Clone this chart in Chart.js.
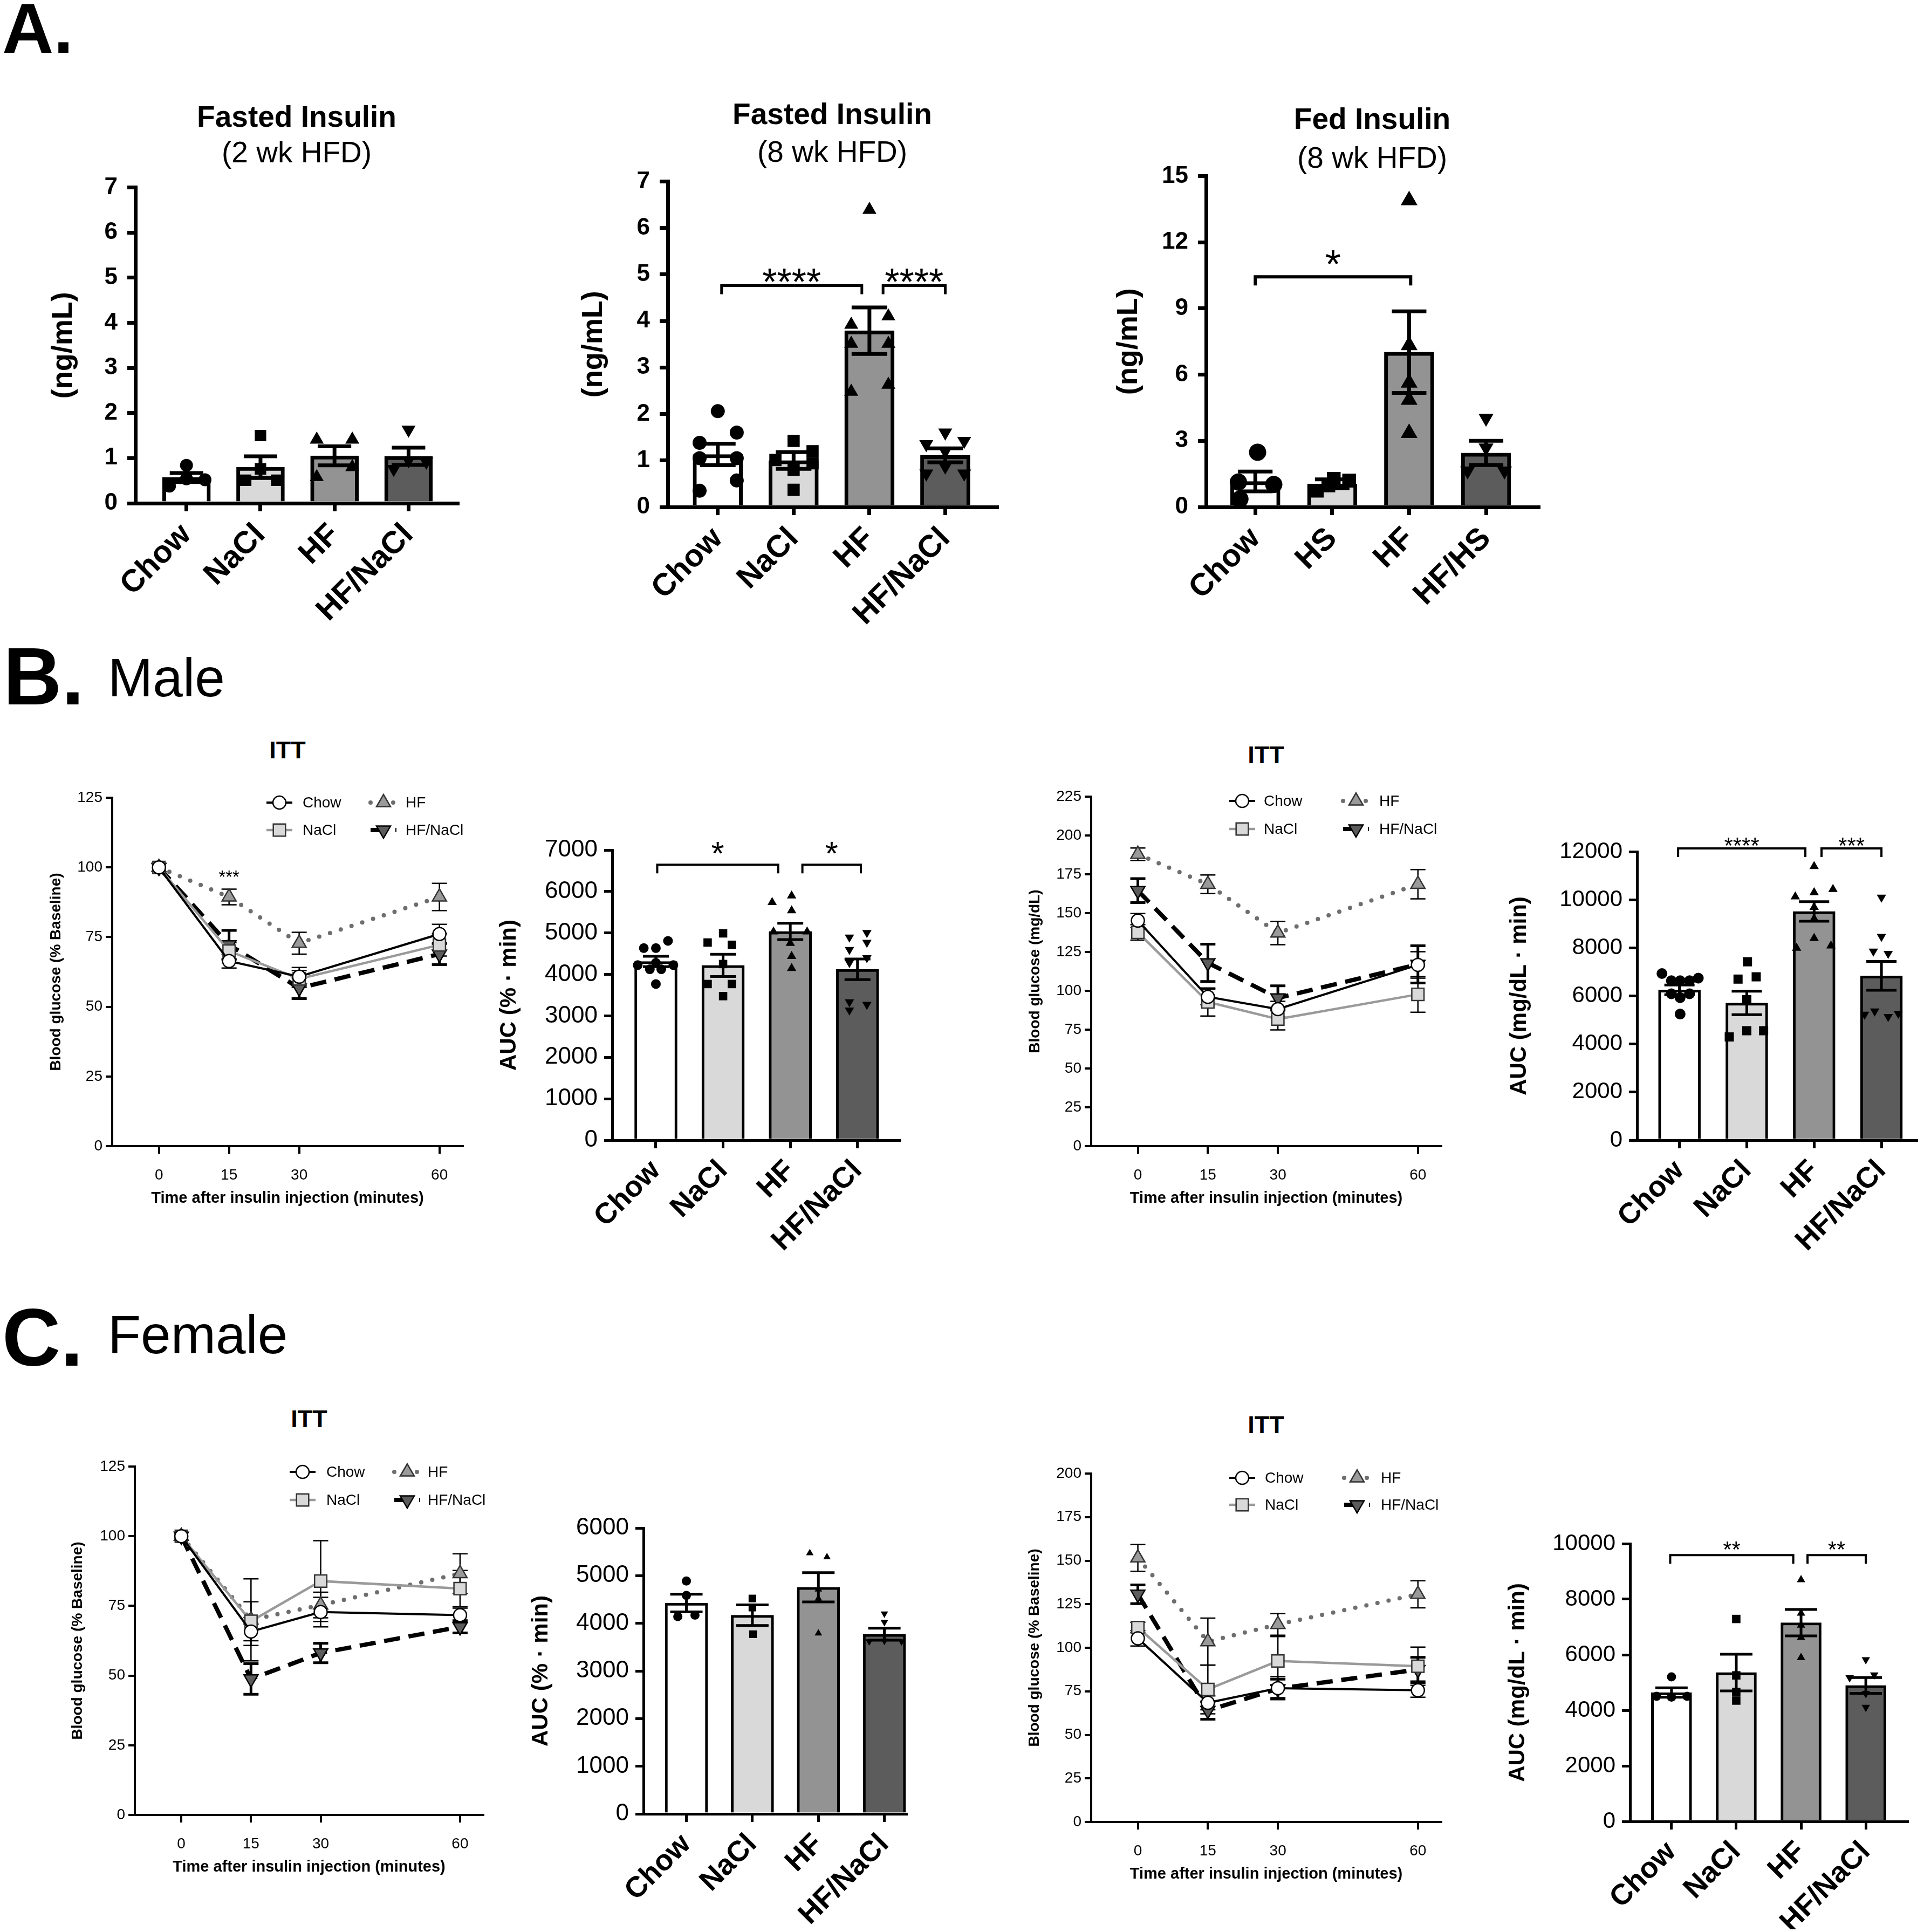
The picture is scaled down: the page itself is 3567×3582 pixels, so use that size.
<!DOCTYPE html>
<html>
<head>
<meta charset="utf-8">
<title>Insulin and ITT</title>
<script src="https://cdn.jsdelivr.net/npm/chart.js@4.4.1/dist/chart.umd.min.js"></script>
<style>
  html, body { margin: 0; padding: 0; background: #fff; }
  body { position: relative; width: 3567px; height: 3582px; overflow: hidden;
         font-family: "Liberation Sans", Arial, Helvetica, sans-serif; color: #000; }
  .lbl { position: absolute; line-height: 1; white-space: nowrap; }
  .ctr { transform: translate(-50%, -50%); }
  canvas { position: absolute; }
</style>
</head>
<body>
<div class="lbl" style="left:4px;top:-13px;font-size:132px;font-weight:bold">A.</div>
<div class="lbl" style="left:6px;top:1179px;font-size:150px;font-weight:bold">B.</div>
<div class="lbl" style="left:200px;top:1206px;font-size:100px">Male</div>
<div class="lbl" style="left:4px;top:2405px;font-size:150px;font-weight:bold">C.</div>
<div class="lbl" style="left:200px;top:2424px;font-size:100px">Female</div>

<div class="lbl ctr" style="left:550px;top:216px;font-size:55px;font-weight:bold">Fasted Insulin</div>
<div class="lbl ctr" style="left:550px;top:282px;font-size:55px">(2 wk HFD)</div>
<div class="lbl ctr" style="left:1543px;top:211px;font-size:55px;font-weight:bold">Fasted Insulin</div>
<div class="lbl ctr" style="left:1543px;top:281px;font-size:55px">(8 wk HFD)</div>
<div class="lbl ctr" style="left:2544px;top:220px;font-size:55px;font-weight:bold">Fed Insulin</div>
<div class="lbl ctr" style="left:2544px;top:292px;font-size:55px">(8 wk HFD)</div>

<div class="lbl ctr" style="left:533px;top:1390px;font-size:45px;font-weight:bold">ITT</div>
<div class="lbl ctr" style="left:2347px;top:1399px;font-size:45px;font-weight:bold">ITT</div>
<div class="lbl ctr" style="left:573px;top:2630px;font-size:45px;font-weight:bold">ITT</div>
<div class="lbl ctr" style="left:2347px;top:2641px;font-size:45px;font-weight:bold">ITT</div>

<script>
// ---------- data ----------
const CATS = ['Chow', 'NaCl', 'HF', 'HF/NaCl'];
const CATS_HS = ['Chow', 'HS', 'HF', 'HF/HS'];
const ittTime = [0, 15, 30, 60];

// A. fasted insulin, 2 wk HFD (ng/mL)
const a1Mean = [0.57, 0.80, 1.05, 1.04];
const a1Sem = [0.10, 0.24, 0.21, 0.19];
const a1Pts = [[0.38, 0.84, 0.54, 0.52], [1.50, 0.76, 0.51, 0.51], [1.41, 1.41, 0.58, 0.80], [1.63, 0.76, 0.95, 0.92]];
const a1Spread = [[-0.23, 0, 0, 0.25], [0, 0, -0.2, 0.22], [-0.24, 0.24, -0.24, 0.24], [0, -0.2, 0, 0.24]];

// A. fasted insulin, 8 wk HFD
const a2Mean = [1.13, 1.00, 3.79, 1.11];
const a2Sem = [0.23, 0.18, 0.50, 0.15];
const a2Pts = [[2.06, 1.60, 1.38, 1.05, 1.05, 0.57, 0.35], [1.42, 1.20, 1.01, 0.94, 0.80, 0.37],
               [6.39, 4.10, 3.92, 3.51, 3.51, 2.48, 2.63], [1.60, 1.35, 1.42, 1.20, 0.72, 0.72, 0.87]];
const a2Spread = [[0, 0.25, -0.24, -0.24, 0.25, 0.25, -0.24], [0, 0.25, -0.24, 0.25, 0, 0],
                  [0, 0.25, -0.24, -0.24, 0.25, -0.24, 0.25], [0, -0.25, 0.25, 0, -0.25, 0.25, 0]];

// A. fed insulin, 8 wk HFD
const a3Mean = [1.16, 1.05, 7.02, 2.45];
const a3Sem = [0.45, 0.20, 1.85, 0.55];
const a3Pts = [[2.48, 1.13, 1.02, 0.36], [0.74, 1.28, 1.20, 0.98], [13.9, 7.33, 5.63, 4.85, 3.35], [4.03, 2.68, 1.64, 1.64]];
const a3Spread = [[0.03, -0.22, 0.24, -0.2], [-0.2, 0.02, 0.22, -0.05], [0, 0, 0, 0, 0], [0, 0, -0.24, 0.24]];

// B. male ITT, % baseline
const b1Mean = [[100, 66.4, 60.8, 76.1], [100, 70.0, 60.0, 72.2], [100, 89.4, 72.8, 89.4], [100, 72.2, 56.7, 68.9]];
const b1Sem = [[0, 2.5, 3.3, 3.5], [0, 3.0, 3.0, 4.0], [0, 2.8, 3.9, 4.9], [0, 5.2, 3.8, 3.8]];

// B. male AUC (% * min)
const b2Mean = [4312, 4217, 5037, 4123];
const b2Sem = [126, 268, 198, 248];
const b2Pts = [[4635, 4635, 4808, 4225, 4123, 4280, 4123, 4225, 3768], [4990, 4769, 4714, 4250, 3768, 3768, 3476],
               [5739, 5896, 5541, 5029, 5029, 4753, 4438, 4146], [4895, 5005, 4769, 4596, 4398, 4280, 3334, 3271, 3137]];
const b2Spread = [[-0.18, 0, 0.18, -0.27, -0.09, 0, 0.08, 0.26, 0], [0, -0.23, 0.13, 0, -0.23, 0.13, 0],
                  [-0.27, 0.02, 0.02, 0.25, -0.25, 0, 0.02, 0.02], [-0.12, 0.14, 0.14, -0.12, 0.14, -0.12, -0.12, 0.14, -0.12]];

// B. male ITT, mg/dL
const b3Mean = [[145.2, 96.1, 88.2, 116.7], [137.6, 92.8, 81.8, 97.7], [187.9, 168.6, 137.2, 168.6], [164.5, 118.0, 95.4, 117.0]];
const b3Sem = [[4.5, 5.0, 5.0, 8.5], [5.0, 9.0, 7.0, 11.5], [4.0, 6.0, 7.5, 9.4], [7.7, 12.0, 7.8, 12.0]];

// B. male AUC (mg/dL * min)
const b4Mean = [6252, 5708, 9514, 6836];
const b4Sem = [204, 490, 408, 598];
const b4Pts = [[6931, 6632, 6632, 6632, 6741, 6089, 5926, 6089, 5246], [7420, 6700, 6795, 5844, 4295, 4553, 4553],
               [11389, 10125, 10302, 10437, 9690, 9215, 8399, 7991, 8086], [10098, 8467, 7855, 7760, 5233, 5368, 5137, 5273]];
const b4Spread = [[-0.26, -0.12, 0.01, 0.15, 0.28, -0.12, 0.01, 0.15, 0.01], [0.01, -0.13, 0.14, 0, -0.26, 0, 0.25],
                  [0, -0.28, 0, 0.28, 0, 0, 0, -0.26, 0.25], [0, 0, -0.12, 0.1, -0.25, -0.1, 0.1, 0.25]];

// C. female ITT, % baseline
const c1Mean = [[100, 65.8, 72.8, 71.7], [100, 69.5, 83.9, 81.2], [100, 70.0, 75.3, 86.6], [100, 48.8, 58.1, 67.5]];
const c1Sem = [[0, 5.0, 5.3, 2.5], [0, 7.0, 14.5, 6.5], [0, 14.7, 4.6, 7.1], [0, 5.5, 3.5, 2.2]];

// C. female AUC (% * min)
const c2Mean = [4425, 4171, 4756, 3771];
const c2Sem = [185, 216, 308, 127];
const c2Pts = [[4889, 4584, 4140, 4171], [4521, 4330, 3771], [5473, 5390, 4711, 4521, 3790], [4203, 4025, 3619, 3632, 3619]];
const c2Spread = [[0, 0, -0.13, 0.13], [0, 0, 0.01], [-0.13, 0.13, 0, 0, 0], [0, 0, -0.23, 0, 0.26]];

// C. female ITT (second panel)
const c3Mean = [[105.4, 68.4, 76.8, 75.6], [111.6, 76.1, 92.4, 89.4], [151.6, 103.5, 113.4, 130.7], [130.7, 64.0, 76.5, 87.5]];
const c3Sem = [[4.4, 4.0, 6.6, 4.0], [3.0, 14.0, 14.0, 11.0], [7.7, 13.5, 6.2, 7.8], [5.4, 5.0, 5.5, 7.0]];

// C. female AUC (mg/dL * min)
const c4Mean = [4639, 5361, 7155, 4897];
const c4Sem = [170, 660, 474, 284];
const c4Pts = [[5206, 4505, 4474, 4505], [7289, 5258, 4660, 4351], [8701, 7495, 7062, 6619, 5897], [5825, 5175, 5278, 4608, 4113]];
const c4Spread = [[0, -0.23, 0, 0.24], [0, 0, 0, 0], [0, 0, 0, 0, 0], [0, -0.25, 0.13, 0, 0]];

// ---------- look ----------
const FONT = '"Liberation Sans", Arial, Helvetica, sans-serif';
const FILLS = ['#ffffff', '#d9d9d9', '#939393', '#5c5c5c'];
const MARKS = [
  { style: 'circle', rot: 0 }, { style: 'rect', rot: 0 },
  { style: 'triangle', rot: 0 }, { style: 'triangle', rot: 180 }
];
const LINES = [
  { color: '#000000', width: 4,   dash: [],       cap: 'butt',  bg: '#ffffff', pb: '#000', r: 12, err: 2.5 },
  { color: '#9a9a9a', width: 4.5, dash: [],       cap: 'butt',  bg: '#d9d9d9', pb: '#333', r: 16, err: 2.5 },
  { color: '#6e6e6e', width: 8,   dash: [0, 21],  cap: 'round', bg: '#9a9a9a', pb: '#333', r: 15, err: 2.5 },
  { color: '#000000', width: 8,   dash: [30, 16], cap: 'butt',  bg: '#5c5c5c', pb: '#000', r: 15, err: 5 }
];

Chart.defaults.font.family = FONT;
Chart.defaults.color = '#000';
Chart.defaults.animation = false;
Chart.defaults.events = [];
Chart.defaults.plugins.legend.display = false;
Chart.defaults.plugins.tooltip.enabled = false;

// canvas placed so that the plot area lands on L/T/R/B of the page
function mkCanvas(g) {
  const c = document.createElement('canvas');
  const w = g.R - g.L + g.yW + g.padR;
  const h = g.padT + g.B - g.T + g.xH;
  c.width = w; c.height = h;
  c.style.left = (g.L - g.yW) + 'px';
  c.style.top = (g.T - g.padT) + 'px';
  c.style.width = w + 'px';
  c.style.height = h + 'px';
  document.body.appendChild(c);
  return c;
}

// ---------- drawing helpers (error bars, brackets, legends) ----------
function drawBarErr(chart, e) {
  const { ctx, scales: { x, y } } = chart;
  ctx.save();
  ctx.strokeStyle = '#000'; ctx.lineWidth = e.lw; ctx.lineCap = 'butt';
  e.mean.forEach((m, i) => {
    const px = x.getPixelForValue(i);
    const top = y.getPixelForValue(m + e.sem[i]);
    const bot = y.getPixelForValue(m - e.sem[i]);
    ctx.beginPath();
    ctx.moveTo(px, top); ctx.lineTo(px, bot);
    ctx.moveTo(px - e.half, top); ctx.lineTo(px + e.half, top);
    ctx.moveTo(px - e.half, bot); ctx.lineTo(px + e.half, bot);
    ctx.stroke();
  });
  ctx.restore();
}

function drawLineErr(chart, e) {
  const { ctx, scales: { x, y } } = chart;
  ctx.save();
  ctx.strokeStyle = '#000'; ctx.lineCap = 'butt';
  e.mean.forEach((vals, s) => {
    ctx.lineWidth = LINES[s].err;
    vals.forEach((m, i) => {
      const sd = e.sem[s][i];
      if (!sd) return;
      const px = x.getPixelForValue(ittTime[i]);
      const top = y.getPixelForValue(m + sd), bot = y.getPixelForValue(m - sd);
      ctx.beginPath();
      ctx.moveTo(px, top); ctx.lineTo(px, bot);
      ctx.moveTo(px - 14, top); ctx.lineTo(px + 14, top);
      ctx.moveTo(px - 14, bot); ctx.lineTo(px + 14, bot);
      ctx.stroke();
    });
  });
  ctx.restore();
}

function drawBracket(chart, b, st) {
  const { ctx, scales: { x, y } } = chart;
  const xa = x.getPixelForValue(b.a), xb = x.getPixelForValue(b.b), py = y.getPixelForValue(b.y);
  ctx.save();
  ctx.strokeStyle = '#000'; ctx.lineWidth = st.lw; ctx.lineJoin = 'miter';
  ctx.beginPath();
  ctx.moveTo(xa, py + st.leg); ctx.lineTo(xa, py); ctx.lineTo(xb, py); ctx.lineTo(xb, py + st.leg);
  ctx.stroke();
  ctx.font = st.font + 'px ' + FONT;
  ctx.fillStyle = '#000'; ctx.textAlign = 'center'; ctx.textBaseline = 'alphabetic';
  ctx.fillText(b.text, (xa + xb) / 2, py - st.lift + 0.57 * st.font);
  ctx.restore();
}

function drawNote(chart, n) {
  const { ctx, scales: { x, y } } = chart;
  ctx.save();
  ctx.font = n.font + 'px ' + FONT;
  ctx.fillStyle = '#000'; ctx.textAlign = 'center'; ctx.textBaseline = 'alphabetic';
  ctx.fillText(n.text, x.getPixelForValue(n.x), y.getPixelForValue(n.y) + 0.57 * n.font);
  ctx.restore();
}

function drawLegend(chart, lg) {
  const { ctx, chartArea } = chart;
  const slots = [[0, 0], [0, 1], [1, 0], [1, 1]];   // [column, row] for Chow, NaCl, HF, HF/NaCl
  ctx.save();
  slots.forEach(([col, row], s) => {
    const st = LINES[s];
    const mx = chartArea.left + lg.markX[col];
    const my = chartArea.top + lg.rows[row];
    ctx.strokeStyle = st.color; ctx.lineWidth = st.width; ctx.lineCap = st.cap;
    ctx.setLineDash(st.dash);
    ctx.beginPath(); ctx.moveTo(mx - 24, my); ctx.lineTo(mx + 24, my); ctx.stroke();
    ctx.setLineDash([]);
    ctx.fillStyle = st.bg; ctx.strokeStyle = st.pb; ctx.lineWidth = 2.5;
    Chart.helpers.drawPoint(ctx, { pointStyle: MARKS[s].style, rotation: MARKS[s].rot, radius: st.r, borderWidth: 2.5 }, mx, my);
    ctx.fillStyle = '#000';
    ctx.font = lg.font + 'px ' + FONT;
    ctx.textAlign = 'left'; ctx.textBaseline = 'middle';
    ctx.fillText(CATS[s], chartArea.left + lg.textX[col], my + 1);
  });
  ctx.restore();
}

function extras(spec) {
  return {
    id: 'extras',
    beforeDatasetsDraw(chart) {
      if (spec.lineErr) drawLineErr(chart, spec.lineErr);
    },
    afterDatasetsDraw(chart) {
      if (spec.barErr) drawBarErr(chart, spec.barErr);
      (spec.sig || []).forEach(b => drawBracket(chart, b, spec.sigStyle));
      (spec.notes || []).forEach(n => drawNote(chart, n));
      if (spec.legend) drawLegend(chart, spec.legend);
    }
  };
}

// ---------- chart builders ----------
function barChart(g, d) {
  const canvas = mkCanvas(g);
  const datasets = [{
    type: 'bar', order: 2,
    data: d.mean.map((m, i) => ({ x: i, y: m })),
    backgroundColor: FILLS, borderColor: '#000', borderWidth: d.lw, barThickness: d.barW
  }];
  d.pts.forEach((vals, i) => datasets.push({
    type: 'scatter', order: 1,
    data: vals.map((v, k) => ({ x: i + d.spread[i][k], y: v })),
    pointStyle: MARKS[i].style, pointRotation: MARKS[i].rot, pointRadius: d.ptR[i],
    pointBackgroundColor: '#000', pointBorderColor: '#000', pointBorderWidth: 0
  }));
  return new Chart(canvas, {
    type: 'bar',
    data: { datasets },
    options: {
      responsive: false, devicePixelRatio: 1,
      layout: { padding: { left: 0, top: g.padT, right: g.padR, bottom: 0 } },
      scales: {
        x: {
          type: 'linear', min: d.xMin, max: d.xMax, offset: false,
          afterBuildTicks: a => { a.ticks = d.cats.map((c, i) => ({ value: i })); },
          afterFit: a => { a.height = g.xH; },
          ticks: {
            callback: v => d.cats[Math.round(v)], autoSkip: false,
            minRotation: 45, maxRotation: 45, padding: d.xPad,
            font: { size: d.xFont, weight: 'bold' }, color: '#000'
          },
          grid: { drawOnChartArea: false, offset: false, color: '#000', lineWidth: d.lw, tickLength: d.tick },
          border: { color: '#000', width: d.lw }
        },
        y: {
          min: 0, max: d.yMax,
          afterFit: a => { a.width = g.yW; },
          ticks: {
            stepSize: d.yStep, callback: v => String(v), padding: d.yPad,
            font: { size: d.yFont, weight: d.yBold ? 'bold' : 'normal' }, color: '#000'
          },
          grid: { drawOnChartArea: false, color: '#000', lineWidth: d.lw, tickLength: d.tick },
          border: { color: '#000', width: d.lw },
          title: { display: true, text: d.yTitle, color: '#000', font: { size: d.yTitleFont, weight: 'bold' }, padding: { top: 4, bottom: 4 } }
        }
      }
    },
    plugins: [extras({
      barErr: { mean: d.mean, sem: d.sem, lw: d.lw, half: d.capHalf },
      sig: d.sig, sigStyle: d.sigStyle
    })]
  });
}

function ittChart(g, d) {
  const canvas = mkCanvas(g);
  const datasets = d.mean.map((vals, s) => ({
    type: 'line', label: CATS[s],
    data: vals.map((v, i) => ({ x: ittTime[i], y: v })),
    borderColor: LINES[s].color, borderWidth: LINES[s].width,
    borderDash: LINES[s].dash, borderCapStyle: LINES[s].cap,
    pointStyle: MARKS[s].style, pointRotation: MARKS[s].rot, pointRadius: LINES[s].r,
    pointBackgroundColor: LINES[s].bg, pointBorderColor: LINES[s].pb, pointBorderWidth: 2.5,
    tension: 0, fill: false
  }));
  return new Chart(canvas, {
    type: 'line',
    data: { datasets },
    options: {
      responsive: false, devicePixelRatio: 1,
      layout: { padding: { left: 0, top: g.padT, right: g.padR, bottom: 0 } },
      scales: {
        x: {
          type: 'linear', min: -10, max: 65,
          afterBuildTicks: a => { a.ticks = ittTime.map(t => ({ value: t })); },
          afterFit: a => { a.height = g.xH; },
          ticks: { callback: v => String(v), autoSkip: false, maxRotation: 0, padding: 23, font: { size: 28 }, color: '#000' },
          grid: { drawOnChartArea: false, color: '#000', lineWidth: 4, tickLength: 14 },
          border: { color: '#000', width: 4 },
          title: { display: true, text: 'Time after insulin injection (minutes)', color: '#000',
                   font: { size: 29, weight: 'bold' }, padding: { top: 4, bottom: 4 } }
        },
        y: {
          min: 0, max: d.yMax,
          afterFit: a => { a.width = g.yW; },
          ticks: { stepSize: 25, callback: v => String(v), padding: 6, font: { size: 28 }, color: '#000' },
          grid: { drawOnChartArea: false, color: '#000', lineWidth: 4, tickLength: 12 },
          border: { color: '#000', width: 4 },
          title: { display: true, text: d.yTitle, color: '#000', font: { size: 28, weight: 'bold' }, padding: { top: 4, bottom: 4 } }
        }
      }
    },
    plugins: [extras({
      lineErr: { mean: d.mean, sem: d.sem },
      legend: d.legend,
      notes: d.notes
    })]
  });
}

// ---------- panel A ----------
const aStyle = { xFont: 58, xPad: 10, yFont: 44, yBold: true, yPad: 18, yTitleFont: 54, lw: 7, tick: 15, capHalf: 31 };

barChart({ L: 251, T: 343, R: 848, B: 933, yW: 169, xH: 260, padT: 40, padR: 20 }, Object.assign({}, aStyle, {
  cats: CATS, mean: a1Mean, sem: a1Sem, pts: a1Pts, spread: a1Spread,
  xMin: -0.69, xMax: 3.66, yMax: 7, yStep: 1, yTitle: '(ng/mL)', barW: 89, ptR: [12, 15, 15, 15]
}));

barChart({ L: 1238, T: 332, R: 1848, B: 940, yW: 173, xH: 260, padT: 40, padR: 20 }, Object.assign({}, aStyle, {
  cats: CATS, mean: a2Mean, sem: a2Sem, pts: a2Pts, spread: a2Spread,
  xMin: -0.66, xMax: 3.68, yMax: 7, yStep: 1, yTitle: '(ng/mL)', barW: 92, ptR: [13, 16, 15, 15], capHalf: 33,
  sig: [{ a: 0.05, b: 1.9, y: 4.76, text: '****' }, { a: 2.18, b: 3.0, y: 4.76, text: '****' }],
  sigStyle: { lw: 5, leg: 16, font: 70, lift: 22 }
}));

barChart({ L: 2236, T: 322, R: 2852, B: 940, yW: 179, xH: 260, padT: 40, padR: 20 }, Object.assign({}, aStyle, {
  cats: CATS_HS, mean: a3Mean, sem: a3Sem, pts: a3Pts, spread: a3Spread,
  xMin: -0.64, xMax: 3.68, yMax: 15, yStep: 3, yTitle: '(ng/mL)', barW: 92, ptR: [16, 18, 18, 16], capHalf: 32,
  sig: [{ a: 0, b: 2.02, y: 10.43, text: '*' }],
  sigStyle: { lw: 6, leg: 16, font: 75, lift: 41 }
}));

// ---------- panel B (male) ----------
const aucStyle = { xFont: 54, xPad: 10, yFont: 44, yBold: false, yPad: 12, yTitleFont: 42, lw: 5, tick: 15, capHalf: 24 };

ittChart({ L: 208, T: 1479, R: 858, B: 2125, yW: 125, xH: 118, padT: 40, padR: 20 }, {
  mean: b1Mean, sem: b1Sem, yMax: 125, yTitle: 'Blood glucose (% Baseline)',
  legend: { rows: [9, 60], markX: [310, 503], textX: [353, 544], font: 28 },
  notes: [{ x: 15, y: 98, text: '***', font: 33 }]
});

barChart({ L: 1135, T: 1576, R: 1667, B: 2114, yW: 220, xH: 240, padT: 40, padR: 20 }, Object.assign({}, aucStyle, {
  cats: CATS, mean: b2Mean, sem: b2Sem, pts: b2Pts, spread: b2Spread,
  xMin: -0.65, xMax: 3.62, yMax: 7000, yStep: 1000, yTitle: 'AUC (% \u00b7 min)', barW: 79, ptR: [9, 11, 10, 10],
  sig: [{ a: 0.02, b: 1.82, y: 6645, text: '*' }, { a: 2.18, b: 3.05, y: 6645, text: '*' }],
  sigStyle: { lw: 4, leg: 16, font: 62, lift: 36 }
}));

ittChart({ L: 2023, T: 1477, R: 2672, B: 2125, yW: 125, xH: 118, padT: 40, padR: 20 }, {
  mean: b3Mean, sem: b3Sem, yMax: 225, yTitle: 'Blood glucose (mg/dL)',
  legend: { rows: [8, 60], markX: [280, 491], textX: [320, 534], font: 28 }
});

barChart({ L: 3035, T: 1579, R: 3553, B: 2114, yW: 247, xH: 240, padT: 60, padR: 12 }, Object.assign({}, aucStyle, {
  cats: CATS, mean: b4Mean, sem: b4Sem, pts: b4Pts, spread: b4Spread, yFont: 42,
  xMin: -0.63, xMax: 3.52, yMax: 12000, yStep: 2000, yTitle: 'AUC (mg/dL \u00b7 min)', barW: 78, ptR: [10, 12, 10, 10], capHalf: 28,
  sig: [{ a: -0.02, b: 1.87, y: 12136, text: '****' }, { a: 2.11, b: 3.0, y: 12136, text: '***' }],
  sigStyle: { lw: 4, leg: 16, font: 42, lift: 15 }
}));

// ---------- panel C (female) ----------
ittChart({ L: 250, T: 2719, R: 896, B: 3365, yW: 127, xH: 118, padT: 40, padR: 20 }, {
  mean: c1Mean, sem: c1Sem, yMax: 125, yTitle: 'Blood glucose (% Baseline)',
  legend: { rows: [10, 62], markX: [311, 505], textX: [355, 543], font: 28 }
});

barChart({ L: 1193, T: 2833, R: 1680, B: 3363, yW: 219, xH: 215, padT: 40, padR: 20 }, Object.assign({}, aucStyle, {
  cats: CATS, mean: c2Mean, sem: c2Sem, pts: c2Pts, spread: c2Spread,
  xMin: -0.65, xMax: 3.33, yMax: 6000, yStep: 1000, yTitle: 'AUC (% \u00b7 min)', barW: 79, ptR: [8.5, 10, 8, 8], capHalf: 30
}));

ittChart({ L: 2023, T: 2732, R: 2672, B: 3378, yW: 126, xH: 118, padT: 40, padR: 20 }, {
  mean: c3Mean, sem: c3Sem, yMax: 200, yTitle: 'Blood glucose (% Baseline)',
  legend: { rows: [8, 58], markX: [280, 493], textX: [322, 537], font: 28 }
});

barChart({ L: 3022, T: 2862, R: 3536, B: 3377, yW: 237, xH: 200, padT: 40, padR: 20 }, Object.assign({}, aucStyle, {
  cats: CATS, mean: c4Mean, sem: c4Sem, pts: c4Pts, spread: c4Spread, yFont: 42,
  xMin: -0.64, xMax: 3.64, yMax: 10000, yStep: 2000, yTitle: 'AUC (mg/dL \u00b7 min)', barW: 75, ptR: [8.5, 11, 9, 9], capHalf: 30,
  sig: [{ a: -0.02, b: 1.88, y: 9588, text: '**' }, { a: 2.1, b: 3.0, y: 9588, text: '**' }],
  sigStyle: { lw: 4, leg: 16, font: 42, lift: 20 }
}));
</script>
</body>
</html>
